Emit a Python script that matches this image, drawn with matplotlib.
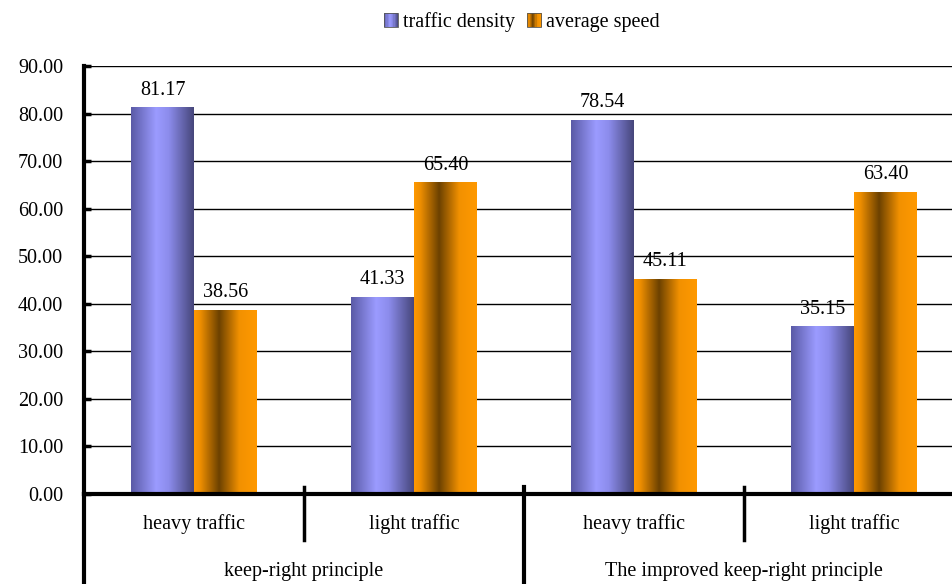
import numpy as np
import matplotlib
matplotlib.use("Agg")
import matplotlib.pyplot as plt
from matplotlib.colors import LinearSegmentedColormap
from matplotlib.legend_handler import HandlerBase
from matplotlib.patches import Rectangle

# -------------------------------------------------
# DATA
# -------------------------------------------------
sub_labels = ["heavy traffic", "light traffic", "heavy traffic", "light traffic"]
group_labels = ["keep-right principle", "The improved keep-right principle"]
density = [81.17, 41.33, 78.54, 35.15]
speed = [38.56, 65.40, 45.11, 63.40]
series_names = ["traffic density", "average speed"]

# -------------------------------------------------
# STYLE
# -------------------------------------------------
plt.rcParams['font.family'] = ['Liberation Serif', 'DejaVu Serif']
FS = 14.5

blue_cmap = LinearSegmentedColormap.from_list(
    "blue_cyl", [(0, '#5a5aa6'), (0.4, '#9b9bff'), (0.6, '#8c8cec'), (1.0, '#46467a')])
orange_cmap = LinearSegmentedColormap.from_list(
    "orange_cyl", [(0, '#ff9900'), (0.1, '#ee8e00'), (0.4, '#6c4100'), (0.72, '#f29100'), (1.0, '#ff9900')])

grad = np.linspace(0, 1, 256).reshape(1, -1)

fig = plt.figure(figsize=(9.53, 5.84), dpi=100)
ax = fig.add_axes([84 / 953, 90 / 584, 880 / 953, 428 / 584])

x = np.arange(len(sub_labels))
w = 0.286

bars_d = ax.bar(x - w / 2, density, w, color='none', edgecolor='none')
bars_s = ax.bar(x + w / 2, speed, w, color='none', edgecolor='none')

for bars, cmap in [(bars_d, blue_cmap), (bars_s, orange_cmap)]:
    for b in bars:
        x0 = b.get_x()
        h = b.get_height()
        ax.imshow(grad, cmap=cmap, aspect='auto', extent=[x0, x0 + b.get_width(), 0, h],
                  zorder=2, interpolation='bilinear')
        ax.annotate(f"{h:.2f}", (x0 + b.get_width() / 2, h), xytext=(0, 6),
                    textcoords='offset points', ha='center', va='bottom', fontsize=FS)

ax.set_xlim(-0.5, 3.5)
ax.set_ylim(0, 90)
ax.set_yticks(np.arange(0, 91, 10))
ax.set_yticklabels([f"{v:.2f}" for v in np.arange(0, 91, 10)], fontsize=FS)
ax.yaxis.grid(True, color='black', lw=1)
ax.set_axisbelow(True)
ax.tick_params(axis='y', direction='in', length=5, width=2.5, pad=15)
ax.set_xticks([])

for s in ['top', 'right']:
    ax.spines[s].set_visible(False)
ax.spines['left'].set_linewidth(3)
ax.spines['bottom'].set_linewidth(3)

# multi-level category axis
tr = ax.get_xaxis_transform()
ax.plot([-0.5, -0.5], [0, -0.22], color='black', lw=3, transform=tr, clip_on=False)
for xs in [0.5, 2.5]:
    ax.plot([xs, xs], [0.016, -0.107], color='black', lw=2.5, transform=tr, clip_on=False)
ax.plot([1.5, 1.5], [0.016, -0.22], color='black', lw=3, transform=tr, clip_on=False)

for i, lab in enumerate(sub_labels):
    ax.text(i, -0.07, lab, transform=tr, ha='center', va='center', fontsize=FS)
for i, lab in enumerate(group_labels):
    ax.text(0.5 + 2 * i, -0.182, lab, transform=tr, ha='center', va='center', fontsize=FS)


# gradient legend handles
class GradHandler(HandlerBase):
    def __init__(self, cmap):
        super().__init__()
        self.cmap = cmap

    def create_artists(self, legend, orig_handle, xdescent, ydescent, width, height, fontsize, trans):
        n = 12
        arts = []
        sz = height * 1.0
        x0 = width - sz
        for k in range(n):
            r = Rectangle((x0 + k * sz / n, -ydescent), sz / n + 0.2, sz,
                          facecolor=self.cmap((k + 0.5) / n), edgecolor='none', transform=trans)
            arts.append(r)
        arts.append(Rectangle((x0, -ydescent), sz, sz, facecolor='none',
                              edgecolor='#555555', lw=0.6, transform=trans))
        return arts


h1 = Rectangle((0, 0), 1, 1)
h2 = Rectangle((0, 0), 1, 1)
fig.legend([h1, h2], series_names, loc='center', bbox_to_anchor=(521 / 953, 1 - 22 / 584),
           ncol=2, frameon=False, fontsize=FS, handlelength=0.8, handletextpad=0.25,
           columnspacing=0.5,
           handler_map={h1: GradHandler(blue_cmap), h2: GradHandler(orange_cmap)})

fig.savefig("out.png", dpi=100)
